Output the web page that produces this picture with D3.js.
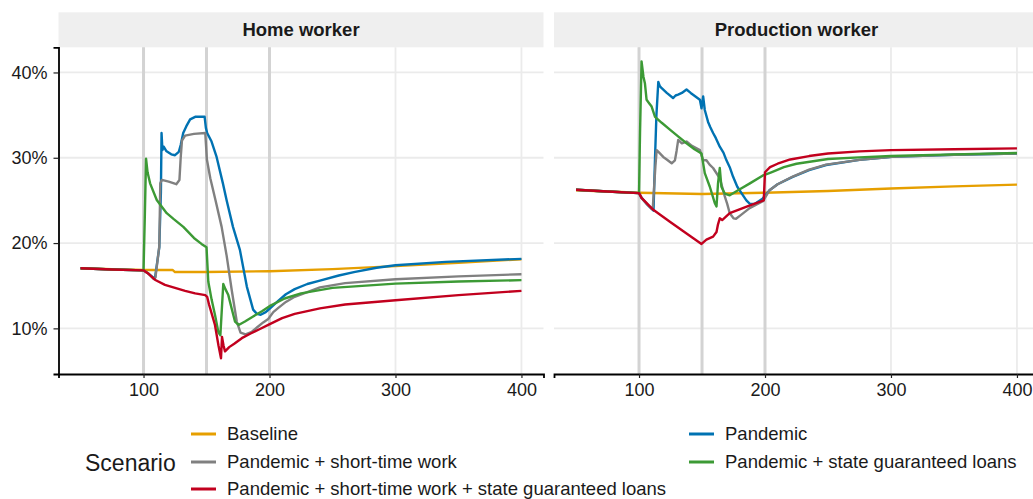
<!DOCTYPE html>
<html><head><meta charset="utf-8">
<script src="https://cdn.jsdelivr.net/npm/d3@7"></script>
<style>
html,body{margin:0;padding:0;background:#fff;}
svg{display:block;font-family:"Liberation Sans",Arial,Helvetica,sans-serif;}
</style></head>
<body><svg id="chart" width="1033" height="499"></svg>
<script>
// ---------- data ----------
const panels = ["Home worker", "Production worker"];
const scenarios = ["Baseline", "Pandemic", "Pandemic + short-time work",
  "Pandemic + state guaranteed loans", "Pandemic + short-time work + state guaranteed loans"];
const xTicks = [100, 200, 300, 400];
const yTicks = [10, 20, 30, 40];
const eventLines = [100, 150, 200];

// Home worker
const homeBaseline = [[50,17.05],[75,16.95],[100,16.85],[123,16.85],[125,16.6],[150,16.6],[200,16.7],[250,16.95],[300,17.3],[350,17.7],[400,18.1]];
const homePandemic = [[50,17.05],[75,16.9],[100,16.8],[104,16.4],[109,15.8],[112.5,19.5],[113.8,26],[114.3,32.9],[115,30.9],[116,31.3],[118,30.8],[122,30.4],[125,30.3],[128,30.7],[129.5,31.5],[131.5,32.9],[134,33.7],[137,34.5],[141,34.8],[148.5,34.8],[149.5,33.5],[150.5,32.9],[154,31.9],[158,30.1],[163,27.0],[166,25.0],[171,21.9],[176.5,19.2],[182,14.9],[187,12.2],[190,11.7],[193,11.6],[197,11.9],[200,12.3],[206,13.1],[213,14.0],[220,14.6],[230,15.2],[240,15.6],[255,16.2],[267,16.6],[285,17.1],[300,17.4],[340,17.8],[400,18.15]];
const homeShortTime = [[50,17.05],[75,16.9],[100,16.8],[104,16.4],[108,15.8],[109.5,16.0],[112.5,19.6],[113.3,27.0],[114.5,27.4],[120,27.2],[126,26.9],[128.5,27.4],[129.5,30.0],[130.5,32.0],[133,32.6],[140,32.8],[149,32.9],[150.3,29.8],[153,27.6],[157,25.1],[162,21.9],[166,18.5],[170,14.5],[174,10.8],[177,9.5],[181,9.3],[186,9.6],[190,10.1],[195,10.7],[199,11.1],[203,11.9],[207,12.4],[213,13.1],[220,13.7],[240,14.8],[260,15.3],[300,15.75],[350,16.1],[400,16.35]];
const homeLoans = [[50,17.05],[75,16.9],[100,16.8],[101,23.0],[102,29.9],[103.2,28.3],[105.2,27.0],[110.5,25.05],[118.4,23.5],[124,22.8],[131.6,21.9],[140,20.6],[146,19.9],[150,19.5],[151.4,15.5],[154,13.4],[156.7,11.6],[159.5,9.5],[161,9.2],[163.3,15.2],[165,14.6],[167.3,13.9],[170,12.3],[172.6,10.8],[175.5,10.4],[180.5,10.8],[187,11.4],[194,12.0],[200,12.6],[212,13.5],[225,14.1],[250,14.75],[300,15.25],[350,15.5],[400,15.65]];
const homeBoth = [[50,17.05],[75,16.9],[100,16.8],[101,16.7],[104,16.4],[109,15.7],[117,15.1],[125,14.75],[133,14.4],[141,14.1],[149,13.9],[150.5,13.7],[152,12.8],[156.7,10.4],[159.5,8.0],[161.5,6.5],[162.3,9.0],[163.5,8.0],[164.7,7.3],[168,7.8],[172,8.2],[178,8.85],[185,9.4],[192,9.9],[199,10.4],[210,11.2],[220,11.7],[240,12.35],[260,12.8],[300,13.3],[350,13.9],[400,14.4]];

// Production worker
const prodBaseline = [[50,26.2],[75,26.05],[100,25.9],[150,25.75],[200,25.9],[250,26.1],[300,26.4],[350,26.65],[400,26.85]];
const prodPandemic = [[50,26.25],[75,26.05],[100,25.85],[102,25.3],[106,24.6],[111.5,23.8],[112.7,30.0],[113.8,35.0],[115.3,38.9],[116.5,38.4],[118,38.15],[122,37.6],[127,37.0],[129,37.3],[131,37.4],[134,37.6],[137.7,38.0],[141,37.6],[148.3,36.8],[149.6,35.8],[150.9,37.2],[152.2,35.6],[154.8,34.2],[156.5,33.6],[158.8,32.9],[161,32.3],[164.1,31.3],[167,30.6],[169.4,29.7],[172,28.9],[174.6,27.8],[178,26.6],[182,25.7],[185.2,25.0],[188,24.6],[192,24.6],[198,25.2],[203.6,26.2],[210,26.9],[222,27.75],[235,28.55],[248.5,29.15],[275,29.75],[301,30.1],[350,30.35],[400,30.5]];
const prodShortTime = [[50,26.25],[75,26.05],[100,25.85],[102,25.3],[106,24.6],[110,24.0],[111,24.3],[113,29.0],[114,30.9],[116,30.6],[119.2,30.1],[122,29.8],[125.9,29.35],[128.5,29.7],[129.8,30.8],[131.1,32.1],[134,31.7],[137.7,31.9],[142,31.4],[148.3,30.9],[150.9,29.7],[153.5,29.7],[156,29.2],[158.8,28.8],[161,28.3],[164.1,27.6],[166,26.6],[168,25.5],[170,24.6],[172,23.5],[175,22.9],[177,22.85],[181,23.3],[187.8,24.1],[198.3,24.9],[203.6,26.2],[210,26.9],[222,27.8],[235,28.6],[248.5,29.2],[275,29.75],[301,30.1],[350,30.35],[400,30.5]];
const prodLoans = [[50,26.25],[75,26.05],[100,25.85],[100.8,33.0],[102,41.3],[103.5,39.5],[104.7,38.7],[106,36.8],[108,36.4],[110,36.0],[112.7,34.8],[118,34.1],[124.5,33.3],[131,32.5],[137.7,31.7],[144,31.0],[149.6,30.5],[152.2,28.2],[156.2,26.6],[160.1,24.7],[161.5,24.3],[162.7,27.0],[164.1,28.8],[165.4,26.6],[168,25.8],[172,25.6],[180,26.3],[188,27.0],[198,27.9],[205,28.3],[215,28.9],[225,29.3],[250,29.85],[275,30.05],[300,30.2],[350,30.4],[400,30.55]];
const prodBoth = [[50,26.25],[75,26.05],[100,25.85],[102,25.3],[111.3,23.9],[124.5,22.5],[138,21.1],[149.6,19.9],[153.5,20.4],[158.8,20.75],[161.5,21.3],[162.7,22.2],[164.1,22.9],[166,22.7],[172,23.5],[186,24.3],[199,25.0],[200,28.3],[204,28.9],[210,29.3],[220,29.8],[235,30.2],[250,30.5],[275,30.75],[300,30.9],[350,31.0],[400,31.1]];

const panelData = [
  [homeBaseline, homePandemic, homeShortTime, homeLoans, homeBoth],
  [prodBaseline, prodPandemic, prodShortTime, prodLoans, prodBoth]
];

// ---------- styling / layout ----------
const colors = ["#E69F00", "#0072B2", "#808080", "#3C9A35", "#C2001E"];
const panelLeft = [58.5, 554];
const panelW = 485;
const plotTop = 47.3, plotBottom = 374;
const stripTop = 12.3;

const svg = d3.select("#chart");
const x0 = d3.scaleLinear().domain([32.5, 417.5]);
const y = d3.scaleLinear().domain([4.65, 42.95]).range([plotBottom, plotTop]);

panels.forEach((name, pi) => {
  const x = x0.copy().range([panelLeft[pi], panelLeft[pi] + panelW]);
  const g = svg.append("g");
  g.append("rect").attr("x", panelLeft[pi]).attr("y", stripTop)
    .attr("width", panelW).attr("height", plotTop - stripTop).attr("fill", "#efefef");
  g.append("text").attr("x", panelLeft[pi] + panelW / 2).attr("y", (stripTop + plotTop) / 2)
    .attr("dy", "0.35em").attr("text-anchor", "middle")
    .attr("font-size", 18.5).attr("font-weight", "bold").attr("fill", "#1a1a1a").text(name);
  g.selectAll(".hg").data(yTicks).enter().append("line")
    .attr("x1", panelLeft[pi]).attr("x2", panelLeft[pi] + panelW)
    .attr("y1", d => y(d)).attr("y2", d => y(d))
    .attr("stroke", "#ebebeb").attr("stroke-width", 1.8);
  g.selectAll(".vg").data(xTicks).enter().append("line")
    .attr("x1", d => x(d)).attr("x2", d => x(d))
    .attr("y1", plotTop).attr("y2", plotBottom)
    .attr("stroke", "#ebebeb").attr("stroke-width", 1.8);
  g.selectAll(".ev").data(eventLines).enter().append("line")
    .attr("x1", d => x(d)).attr("x2", d => x(d))
    .attr("y1", plotTop).attr("y2", plotBottom)
    .attr("stroke", "#d3d3d3").attr("stroke-width", 3);
  const line = d3.line().x(d => x(d[0])).y(d => y(d[1]));
  panelData[pi].forEach((ser, si) => {
    g.append("path").datum(ser).attr("d", line)
      .attr("fill", "none").attr("stroke", colors[si])
      .attr("stroke-width", 2.4).attr("stroke-linejoin", "round");
  });
  const xa = g.append("g").attr("transform", `translate(0,${plotBottom})`)
    .call(d3.axisBottom(x).tickValues(xTicks).tickSize(4).tickPadding(5));
  xa.select(".domain").attr("stroke", "#000").attr("stroke-width", 1.8);
  xa.selectAll(".tick line").attr("stroke", "#222").attr("stroke-width", 1.2);
  xa.selectAll(".tick text").attr("font-size", 18).attr("fill", "#1a1a1a")
    .attr("font-family", "Liberation Sans, Arial, sans-serif");
  if (pi === 0) {
    const ya = g.append("g").attr("transform", `translate(${panelLeft[pi]},0)`)
      .call(d3.axisLeft(y).tickValues(yTicks).tickSize(5).tickPadding(6).tickFormat(d => d + "%"));
    ya.select(".domain").attr("stroke", "#000").attr("stroke-width", 1.8);
    ya.selectAll(".tick line").attr("stroke", "#222").attr("stroke-width", 1.2);
    ya.selectAll(".tick text").attr("font-size", 18).attr("fill", "#1a1a1a")
      .attr("font-family", "Liberation Sans, Arial, sans-serif");
  }
});

// ---------- legend ----------
const leg = svg.append("g");
leg.append("text").attr("x", 85).attr("y", 463).attr("dy", "0.35em")
  .attr("font-size", 23).attr("fill", "#1a1a1a").text("Scenario");
const legendPos = [
  {col: 0, row: 0}, {col: 1, row: 0}, {col: 0, row: 1}, {col: 1, row: 1}, {col: 0, row: 2}
];
const colKeyX = [191, 689];
const rowY = [434, 462, 489];
scenarios.forEach((s, i) => {
  const p = legendPos[i];
  const kx = colKeyX[p.col], ky = rowY[p.row];
  leg.append("line").attr("x1", kx).attr("x2", kx + 25).attr("y1", ky).attr("y2", ky)
    .attr("stroke", colors[i]).attr("stroke-width", 3);
  leg.append("text").attr("x", kx + 36).attr("y", ky).attr("dy", "0.35em")
    .attr("font-size", 18.5).attr("fill", "#1a1a1a").text(s);
});
</script>
</body></html>
